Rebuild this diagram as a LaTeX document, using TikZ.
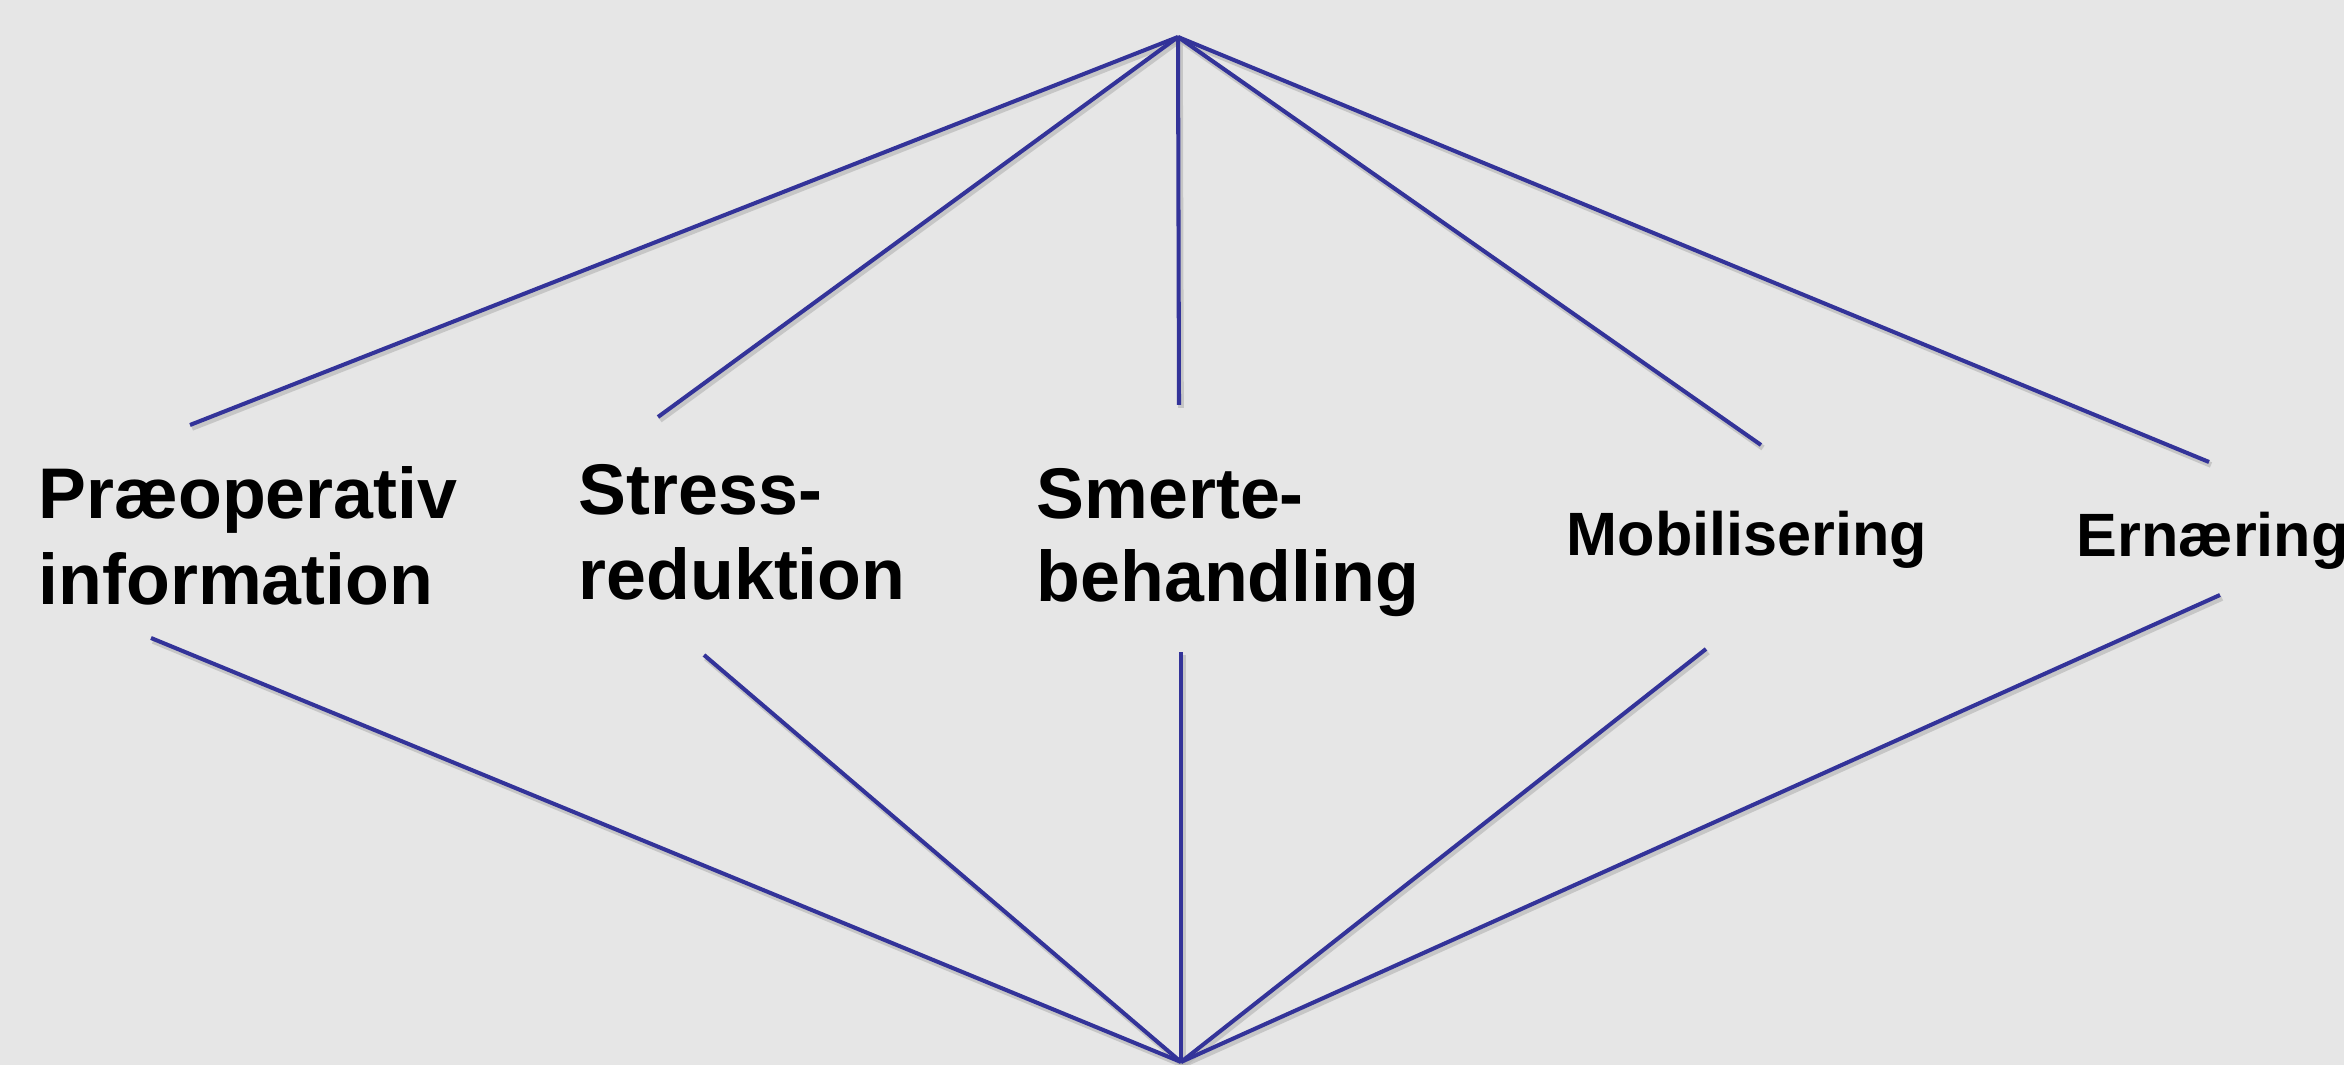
\documentclass[tikz,border=0pt]{standalone}
\usepackage{fontspec}
\setmainfont{Liberation Sans}
\definecolor{bgcol}{HTML}{E6E6E6}
\definecolor{linecol}{HTML}{333399}
\begin{document}
\begin{tikzpicture}[x=0.01cm,y=-0.01cm,
  conn/.style={draw=linecol, line width=1.15pt},
  shade/.style={draw=black!30, line width=1.6pt, opacity=0.6},
  big/.style={inner sep=0pt, anchor=base west, font=\fontsize{20.4}{25}\selectfont\bfseries},
  small/.style={inner sep=0pt, anchor=base west, font=\fontsize{17.4}{21}\selectfont\bfseries}]
\fill[bgcol] (0,0) rectangle (2344,1065);
\useasboundingbox (0,0) rectangle (2344,1065);
% apexes
\coordinate (top) at (1178,37);
\coordinate (bot) at (1181,1062);
% upper ends
\coordinate (u1) at (190,425);
\coordinate (u2) at (658,417);
\coordinate (u3) at (1179,405);
\coordinate (u4) at (1761,445);
\coordinate (u5) at (2209,462);
% lower ends
\coordinate (l1) at (151,638);
\coordinate (l2) at (704,655);
\coordinate (l3) at (1181,652);
\coordinate (l4) at (1706,649);
\coordinate (l5) at (2220,595);
% shadows
\foreach \p in {u1,u2,u3,u4,u5}
  \draw[shade] ([shift={(2,3)}]top) -- ([shift={(2,3)}]\p);
\foreach \p in {l1,l2,l3,l4,l5}
  \draw[shade] ([shift={(2,3)}]bot) -- ([shift={(2,3)}]\p);
% connectors
\foreach \p in {u1,u2,u3,u4,u5}
  \draw[conn] (top) -- (\p);
\foreach \p in {l1,l2,l3,l4,l5}
  \draw[conn] (bot) -- (\p);
% labels
\node[big] (pa) at (38,519) {Præoperativ};
\node[big] (pb) at (38,605) {information};
\node[big] (sa) at (578,515) {Stress-};
\node[big] (sb) at (578,600) {reduktion};
\node[big] (ma) at (1036,519) {Smerte-};
\node[big] (mb) at (1036,602) {behandling};
\node[small] (mo) at (1566,556) {Mobilisering};
\node[small] (er) at (2076,557) {Ernæring};
\end{tikzpicture}
\end{document}
